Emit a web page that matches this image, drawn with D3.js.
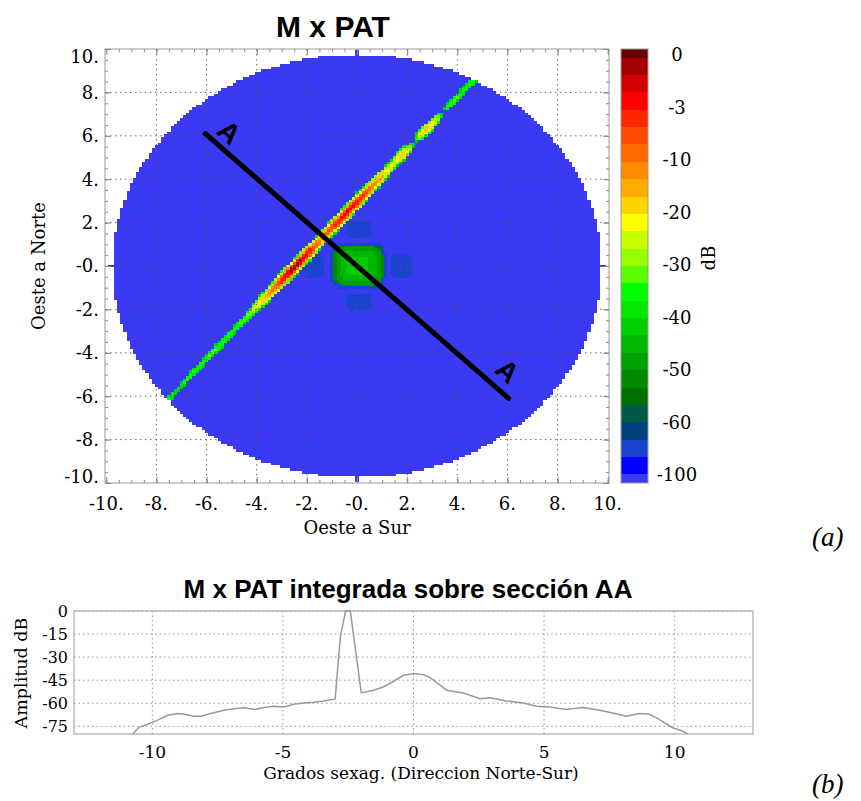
<!DOCTYPE html>
<html><head><meta charset="utf-8">
<script src="https://cdn.jsdelivr.net/npm/d3@7"></script>
<style>body{margin:0;background:#fff}svg{display:block}</style>
</head><body><svg id="c" width="861" height="801"></svg>
<script>
// ---------------- DATA ----------------
const mapTicks = [-10,-8,-6,-4,-2,0,2,4,6,8,10];
const mapTickLabels = ["-10.","-8.","-6.","-4.","-2.","-0.","2.","4.","6.","8.","10."];
const discRadius = 9.75;
const cellSize = 0.125;
const backgroundDb = -130;
const beamStart = [-7.5,-6.1];
const beamEnd = [4.6,8.5];
const beamX =      [-7.5,-7.2,-6.8,-6.2,-5.6,-5.0,-4.3,-3.9,-3.6,-3.3,-3.0,-2.6,-2.2,-1.8,-1.4,-1.1,-0.8,-0.4,0.0,0.4,0.8,1.2,1.5,1.8,2.0,2.3,2.5,2.8,3.2,3.45,3.6,4.0,4.6];
const beamPeakDb = [-37, -42, -37, -36, -34, -36, -33, -22, -16, -10, -4,  0,   -1,  -6,  -14, -8,  -4,  -2,  -4, -8, -14,-22,-26,-17,-22,-48,-24,-18,-28,-50,-36,-34,-37];
const blobCenter = [0.05,0.0];
const blobHalf = [0.98,1.0];
const blobDb = [-43,-53,-85];          // centre, edge, ring
const lobeX = [0.05,0.05,-1.72,1.76];
const lobeY = [1.72,-1.65,0,0];
const lobeHalfX = [0.52,0.52,0.42,0.42];
const lobeHalfY = [0.38,0.38,0.58,0.58];
const lobeDb = -85;
const sectionA = [[-6.05,6.1],[6.05,-6.1]];
const sectionLabels = [{x:-5.1,y:6.15,t:"A"},{x:6.0,y:-4.85,t:"A"}];
const cbLevels = [0,-3,-10,-20,-30,-40,-50,-60,-100];
const cbColors = ["#6b0000","#a30000","#d30000","#ff0000","#ff2600","#ff4a00","#ff6a00","#ff8a00","#ffaa00","#ffd500","#ffff00","#c8ff00","#96ff00","#5aff00","#00ff00","#00e800","#00d000","#00b800","#00a000","#008a00","#007000","#005a46","#00407c","#1a44d0","#0000ff","#3a3af5"];
const profX =  [-10.75,-10.5,-10.18,-9.8,-9.41,-9.03,-8.78,-8.4,-8.14,-7.76,-7.25,-6.87,-6.49,-6.1,-5.73,-5.34,-4.96,-4.58,-4.2,-3.82,-3.44,-3.0,-2.8,-2.6,-2.42,-2.0,-1.53,-1.15,-0.76,-0.38,0,0.38,0.64,1.27,1.91,2.55,2.93,3.56,4.2,4.71,5.22,5.85,6.49,7.13,7.63,8.15,8.65,9.03,9.42,9.92,10.3,10.5];
const profDb = [-80,-75.5,-73.7,-71,-67.8,-66.7,-67.2,-68.5,-68.5,-66.7,-64.6,-63.5,-63,-64.1,-62.8,-62,-62.4,-60.7,-59.8,-59.4,-58.5,-57.2,-16.7,0,0,-53.3,-51.5,-49.4,-45.7,-41.8,-40.7,-41.5,-43.3,-51.5,-53.3,-57,-56.5,-58.5,-59.8,-62,-62.4,-64.1,-62.8,-64.6,-66.3,-68.5,-66.7,-67.2,-70.6,-75.9,-78,-80];
const profXTicks = [-10,-5,0,5,10];
const profYTicks = [0,-15,-30,-45,-60,-75];

// ---------------- DRAW ----------------
const svg = d3.select("#c");
const serif = "DejaVu Serif";
const sans = "Liberation Sans, Arial, sans-serif";

const x = d3.scaleLinear().domain([-10.05,10.05]).range([105,609]);
const y = d3.scaleLinear().domain([-10,10]).range([483,49]);

svg.append("text").attr("x",333).attr("y",37).attr("text-anchor","middle")
  .attr("font-family",sans).attr("font-weight","bold").attr("font-size",30).text("M x PAT");

const posScale = d3.scaleLinear().domain([...cbLevels,-120]).range([0,3,6,9,12,15,18,21,24,25]).clamp(true);
const beamPeak = d3.scaleLinear().domain(beamX).range(beamPeakDb).clamp(true);
const Dx = beamEnd[0]-beamStart[0], Dy = beamEnd[1]-beamStart[1];
const L2 = Dx*Dx+Dy*Dy, L = Math.sqrt(L2);
const beamHalfWidth = 0.3, beamDrop = 45, beamFloor = -44;

function value(px,py){
  let v = backgroundDb;
  const u = ((px-beamStart[0])*Dx + (py-beamStart[1])*Dy)/L2;
  if (u >= -0.01 && u <= 1.01){
    const d = Math.abs((px-beamStart[0])*Dy - (py-beamStart[1])*Dx)/L;
    const bv = beamPeak(beamStart[0]+u*Dx) - beamDrop*(d/beamHalfWidth)**2;
    if (bv >= beamFloor) v = Math.max(v,bv);
  }
  const s = Math.pow(Math.pow(Math.abs(px-blobCenter[0])/blobHalf[0],4)+Math.pow(Math.abs(py-blobCenter[1])/blobHalf[1],4),0.25);
  if (s <= 1) v = Math.max(v, blobDb[0] + (blobDb[1]-blobDb[0])*s*s);
  else if (s <= 1.12) v = Math.max(v, blobDb[2]);
  for (let k=0;k<lobeX.length;k++){
    const sk = Math.pow(Math.pow(Math.abs(px-lobeX[k])/lobeHalfX[k],4)+Math.pow(Math.abs(py-lobeY[k])/lobeHalfY[k],4),0.25);
    if (sk <= 1) v = Math.max(v, lobeDb);
  }
  return v;
}

const half = cellSize/2;
const n = Math.round(10/cellSize);
const runs = [];
for (let j=-n;j<=n;j++){
  const yc = j*cellSize;
  let cur = null;
  for (let i=-n;i<=n;i++){
    const xc = i*cellSize;
    const r = Math.hypot(xc,yc);
    const inside = r <= discRadius || ((i===0 || j===0) && r <= 9.95);
    let ci = null;
    if (inside) ci = Math.round(posScale(value(xc,yc)));
    if (ci !== null && cur && cur.ci === ci){ cur.x1 = xc; }
    else {
      if (cur) runs.push(cur);
      cur = ci === null ? null : {ci, x0:xc, x1:xc, yc};
    }
  }
  if (cur) runs.push(cur);
}
svg.append("g").attr("shape-rendering","crispEdges").selectAll("rect").data(runs).join("rect")
  .attr("x",d=>x(d.x0-half)).attr("width",d=>x(d.x1+half)-x(d.x0-half))
  .attr("y",d=>y(d.yc+half)).attr("height",d=>y(d.yc-half)-y(d.yc+half))
  .attr("fill",d=>cbColors[d.ci]);

// grid
const inner = mapTicks.filter(v=>Math.abs(v)<10);
const gg = svg.append("g").attr("stroke","#555").attr("stroke-width",1).attr("stroke-dasharray","1.5,3.5").attr("opacity",0.85);
gg.selectAll(".gv").data(inner).join("line").attr("x1",d=>x(d)).attr("x2",d=>x(d)).attr("y1",y(10)).attr("y2",y(-10));
gg.selectAll(".gh").data(inner).join("line").attr("y1",d=>y(d)).attr("y2",d=>y(d)).attr("x1",x.range()[0]).attr("x2",x.range()[1]);

// frame + ticks
svg.append("rect").attr("x",105).attr("y",49).attr("width",504).attr("height",434).attr("fill","none").attr("stroke","#999");
const minor = d3.range(-10,10.001,0.5);
function ticks(axis, tr){
  const g = svg.append("g").attr("transform",tr).call(axis);
  g.select(".domain").remove(); g.selectAll("text").remove();
  g.selectAll("line").attr("stroke","#888");
}
[[minor,3],[mapTicks,6]].forEach(([vals,len])=>{
  ticks(d3.axisBottom(x).tickValues(vals).tickSize(-len),"translate(0,483)");
  ticks(d3.axisTop(x).tickValues(vals).tickSize(-len),"translate(0,49)");
  ticks(d3.axisLeft(y).tickValues(vals).tickSize(-len),"translate(105,0)");
  ticks(d3.axisRight(y).tickValues(vals).tickSize(-len),"translate(609,0)");
});

// tick labels
svg.append("g").selectAll("text").data(mapTicks).join("text")
  .attr("x",d=>x(d)).attr("y",510).attr("text-anchor","middle")
  .attr("font-family",serif).attr("font-size",18).text((d,i)=>mapTickLabels[i]);
svg.append("g").selectAll("text").data(mapTicks).join("text")
  .attr("x",99).attr("y",d=>Math.min(477,Math.max(57,y(d)))).attr("dy","0.35em").attr("text-anchor","end")
  .attr("font-family",serif).attr("font-size",18).text((d,i)=>mapTickLabels[i]);
svg.append("text").attr("x",357).attr("y",534).attr("text-anchor","middle")
  .attr("font-family",serif).attr("font-size",18).text("Oeste a Sur");
svg.append("text").attr("transform","translate(45,266) rotate(-90)").attr("text-anchor","middle")
  .attr("font-family",serif).attr("font-size",18).text("Oeste a Norte");

// section AA
svg.append("line").attr("x1",x(sectionA[0][0])).attr("y1",y(sectionA[0][1]))
  .attr("x2",x(sectionA[1][0])).attr("y2",y(sectionA[1][1]))
  .attr("stroke","#000").attr("stroke-width",5).attr("stroke-linecap","round");
svg.append("g").selectAll("text").data(sectionLabels).join("text")
  .attr("transform",d=>`translate(${x(d.x)},${y(d.y)}) rotate(42)`)
  .attr("text-anchor","middle").attr("dominant-baseline","central")
  .attr("font-family",sans).attr("font-weight","bold").attr("font-size",28).text(d=>d.t);

// colorbar
const cbY = d3.scaleLinear().domain([0,cbColors.length-1]).range([49,483]);
const nC = cbColors.length-1;
svg.append("g").attr("shape-rendering","crispEdges").selectAll("rect").data(cbColors).join("rect")
  .attr("x",621).attr("width",27)
  .attr("y",(d,i)=>cbY(Math.max(0,i-0.5)))
  .attr("height",(d,i)=>cbY(Math.min(nC,i+0.5))-cbY(Math.max(0,i-0.5)))
  .attr("fill",d=>d);
svg.append("rect").attr("x",621).attr("y",49).attr("width",27).attr("height",434).attr("fill","none").attr("stroke","#999");
const cbLab = d3.scalePoint().domain(cbLevels).range([55,475]);
svg.append("g").selectAll("text").data(cbLevels).join("text")
  .attr("x",677).attr("y",d=>cbLab(d)).attr("dy","0.35em").attr("text-anchor","middle")
  .attr("font-family",serif).attr("font-size",18).text(d=>d);
svg.append("text").attr("transform","translate(715,258) rotate(-90)").attr("text-anchor","middle")
  .attr("font-family",serif).attr("font-size",18).text("dB");

svg.append("text").attr("x",812).attr("y",546).attr("font-family","Liberation Serif").attr("font-style","italic")
  .attr("font-size",27).text("(a)");

// Bottom profile
const xP = d3.scaleLinear().domain([-13,13]).range([74,753]);
const yP = d3.scaleLinear().domain([-80,0]).range([734,611]);
svg.append("text").attr("x",408).attr("y",598).attr("text-anchor","middle")
  .attr("font-family",sans).attr("font-weight","bold").attr("font-size",26).text("M x PAT integrada sobre sección AA");
svg.append("defs").append("clipPath").attr("id","pc").append("rect")
  .attr("x",74).attr("y",610).attr("width",679).attr("height",124);
const pg = svg.append("g").attr("stroke","#999").attr("stroke-width",1).attr("stroke-dasharray","1.5,3");
pg.selectAll(".v").data(profXTicks).join("line").attr("x1",d=>xP(d)).attr("x2",d=>xP(d)).attr("y1",611).attr("y2",734);
pg.selectAll(".h").data(profYTicks).join("line").attr("y1",d=>yP(d)).attr("y2",d=>yP(d)).attr("x1",74).attr("x2",753);
svg.append("rect").attr("x",74).attr("y",611).attr("width",679).attr("height",123).attr("fill","none").attr("stroke","#aaa").attr("stroke-width",1.2);
const prof = profX.map((v,i)=>[v,profDb[i]]);
svg.append("path").datum(prof).attr("clip-path","url(#pc)")
  .attr("d",d3.line().x(d=>xP(d[0])).y(d=>yP(d[1])))
  .attr("fill","none").attr("stroke","#999").attr("stroke-width",1.5);
svg.append("g").selectAll("text").data(profXTicks).join("text")
  .attr("x",d=>xP(d)).attr("y",758).attr("text-anchor","middle")
  .attr("font-family",serif).attr("font-size",17).text(d=>d);
svg.append("g").selectAll("text").data(profYTicks).join("text")
  .attr("x",68).attr("y",d=>yP(d)).attr("dy","0.35em").attr("text-anchor","end")
  .attr("font-family",serif).attr("font-size",16).text(d=>d);
svg.append("text").attr("x",421).attr("y",779).attr("text-anchor","middle")
  .attr("font-family",serif).attr("font-size",17).text("Grados sexag. (Direccion Norte-Sur)");
svg.append("text").attr("transform","translate(27,673) rotate(-90)").attr("text-anchor","middle")
  .attr("font-family",serif).attr("font-size",17.5).text("Amplitud dB");
svg.append("text").attr("x",812).attr("y",793).attr("font-family","Liberation Serif").attr("font-style","italic")
  .attr("font-size",27).text("(b)");
</script></body></html>
